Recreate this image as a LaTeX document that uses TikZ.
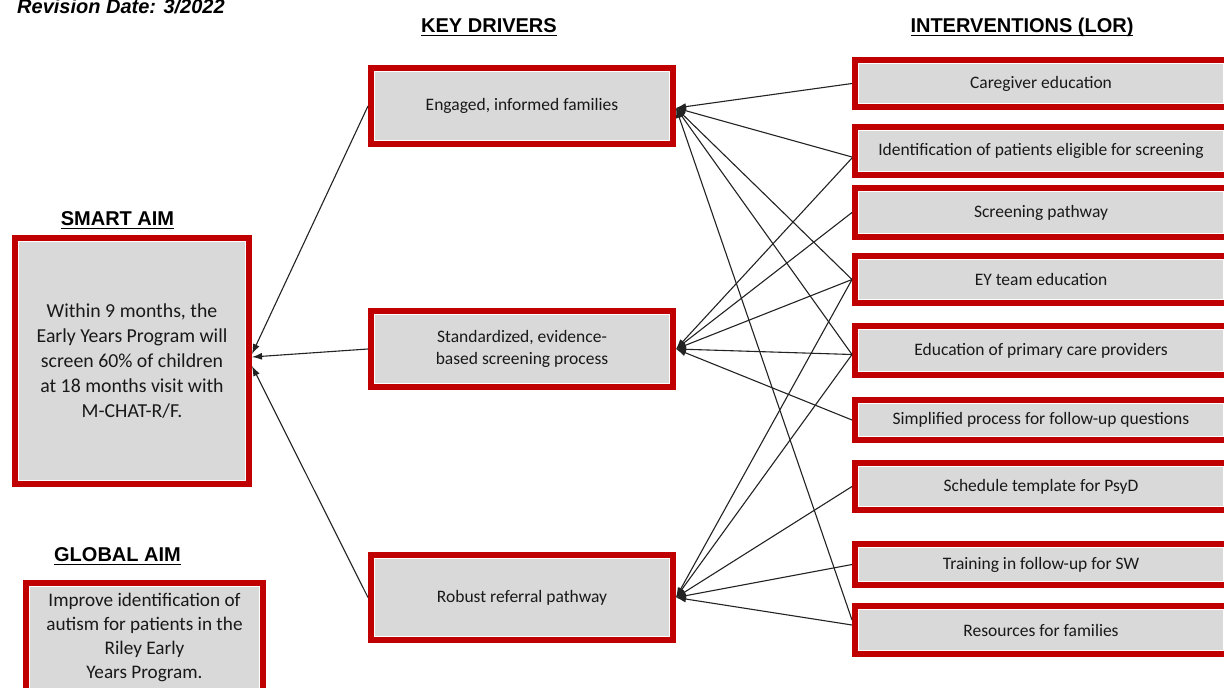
\documentclass[tikz,border=0pt]{standalone}
\usepackage{fontspec}
\setmainfont{Carlito}
\newfontfamily\arialf{Liberation Sans}
\usetikzlibrary{arrows.meta}
\definecolor{boxred}{RGB}{192,0,0}
\definecolor{boxgray}{RGB}{217,217,217}
\definecolor{txt}{RGB}{25,25,25}
\definecolor{wire}{RGB}{35,35,35}
\newcommand{\hdul}[1]{\setbox0\hbox{#1}\rlap{\vrule height -2.6pt depth 4.4pt width \wd0}\box0}
\begin{document}
\begin{tikzpicture}[x=1pt,y=-1pt,
  rbox/.style={draw=boxred, line width=6pt, fill=boxgray, inner sep=0pt, align=center, text=txt,
    font=\fontsize{17.5}{22}\selectfont,
    path picture={\draw[white,line width=8pt] (path picture bounding box.south west) rectangle (path picture bounding box.north east);}},
  kdbox/.style={rbox, minimum width=302pt},
  ivbox/.style={rbox, minimum width=372pt},
  hdr/.style={font=\arialf\bfseries\fontsize{20}{24}\selectfont, anchor=base, inner sep=0pt, text=black},
  wire/.style={draw=wire, line width=1.1pt},
  arr/.style={wire, -{Latex[length=10pt,width=7pt]}}
]
\useasboundingbox (0,0) rectangle (1224,688);
\fill[white] (0,0) rectangle (1224,688);

% headers
\node[hdr, anchor=base west] (rev) at (17,13) {\itshape Revision Date: 3/2022};
\node[hdr] (kdh) at (489,32) {\hdul{KEY DRIVERS}};
\node[hdr] (ivh) at (1022,32) {\hdul{INTERVENTIONS (LOR)}};
\node[hdr] (smh) at (117.5,225) {\hdul{SMART AIM}};
\node[hdr] (glh) at (117.5,561) {\hdul{GLOBAL AIM}};

% aims
\node[rbox, minimum width=234pt, minimum height=246pt, font=\fontsize{19.8}{25}\selectfont] (smart) at (132,361)
  {Within 9 months, the\\Early Years Program will\\screen 60\% of children\\at 18 months visit with\\M-CHAT-R/F.};
\node[rbox, minimum width=237pt, minimum height=109pt, font=\fontsize{19.2}{24}\selectfont] (global) at (144.5,637.5)
  {Improve identification of\\autism for patients in the\\Riley Early\\Years Program.};

% key drivers
\node[kdbox, minimum height=76pt] (kd1) at (522,106) {Engaged, informed families};
\node[kdbox, minimum height=76pt] (kd2) at (522,349) {Standardized, evidence-\\based screening process};
\node[kdbox, minimum height=85pt] (kd3) at (522,597.5) {Robust referral pathway};

% interventions
\node[ivbox, minimum height=47pt] (cg) at (1041,83.5) {Caregiver education};
\node[ivbox, minimum height=48pt] (id) at (1041,151) {Identification of patients eligible for screening};
\node[ivbox, minimum height=49pt] (sp) at (1041,212.5) {Screening pathway};
\node[ivbox, minimum height=47pt] (ey) at (1041,279.5) {EY team education};
\node[ivbox, minimum height=49pt] (pc) at (1041,350.5) {Education of primary care providers};
\node[ivbox, minimum height=40pt] (sf) at (1041,420) {Simplified process for follow-up questions};
\node[ivbox, minimum height=47pt] (st) at (1041,486.5) {Schedule template for PsyD};
\node[ivbox, minimum height=41pt] (tr) at (1041,564.5) {Training in follow-up for SW};
\node[ivbox, minimum height=48pt] (rs) at (1041,630) {Resources for families};

% key drivers -> smart aim
\draw[arr] (kd1.west) -- ([yshift=7pt]smart.east);
\draw[arr] (kd2.west) -- ([yshift=4pt]smart.east);
\draw[arr] (kd3.west) -- ([yshift=-5pt]smart.east);

% interventions -> key drivers
\draw[arr] (cg.west) -- ([yshift=-2pt]kd1.east);
\draw[arr] ([yshift=-6pt]id.west) -- ([yshift=-2pt]kd1.east);
\draw[arr] (ey.west) -- ([yshift=-2pt]kd1.east);
\draw[arr] ([yshift=-4pt]pc.west) -- ([yshift=-2pt]kd1.east);
\draw[arr] ([yshift=10pt]rs.west) -- ([yshift=-2pt]kd1.east);

\draw[arr] ([yshift=-7pt]id.west) -- (kd2.east);
\draw[arr] (sp.west) -- (kd2.east);
\draw[arr] (ey.west) -- (kd2.east);
\draw[arr] ([yshift=-4pt]pc.west) -- (kd2.east);
\draw[arr] (sf.west) -- (kd2.east);

\draw[arr] (ey.west) -- (kd3.east);
\draw[arr] ([yshift=-4pt]pc.west) -- (kd3.east);
\draw[arr] (st.west) -- (kd3.east);
\draw[arr] (tr.west) -- (kd3.east);
\draw[arr] ([yshift=5pt]rs.west) -- (kd3.east);
\end{tikzpicture}
\end{document}
